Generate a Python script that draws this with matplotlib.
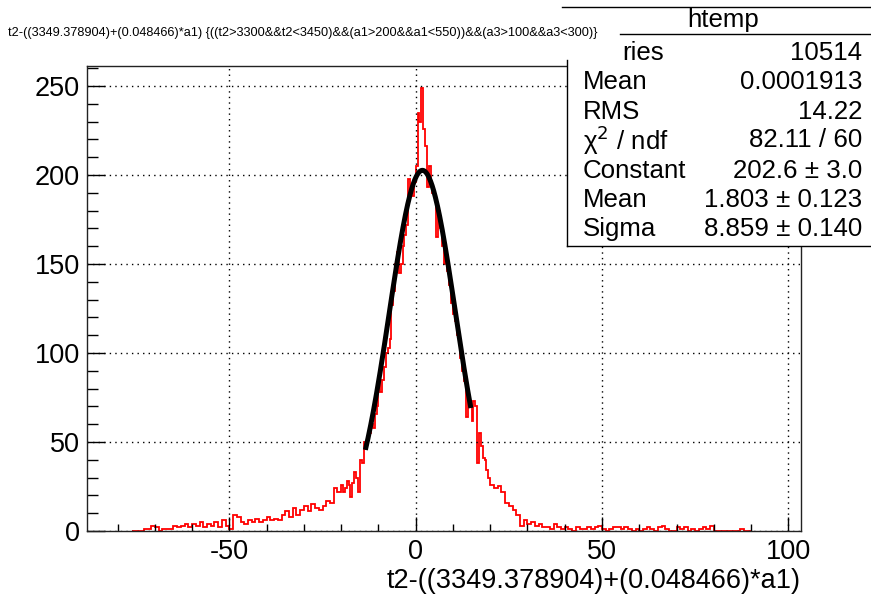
import numpy as np
import matplotlib
matplotlib.use("Agg")
import matplotlib.pyplot as plt
from matplotlib.lines import Line2D
from matplotlib.ticker import MultipleLocator

plt.rcParams['font.family'] = ['Liberation Sans', 'DejaVu Sans']
plt.rcParams['axes.unicode_minus'] = False

# histogram bin heights
# left tail, 1-unit bins from -76 to -20
left_counts = [0, 0, 0, 1, 1, 3, 2, 0, 1, 1, 1, 3, 2, 3, 4, 2, 4, 3, 5, 2,
               4, 3, 5, 2, 6, 3, 1, 9, 8, 5, 4, 6, 5, 7, 5, 6, 8, 6, 7, 6,
               9, 11, 8, 13, 9, 12, 14, 11, 15, 13, 12, 14, 17, 16, 24, 22]
# core, 0.5-unit bins from -20 to 20
core_counts = [26, 22, 24, 28, 26, 19, 27, 33, 30, 22,
               40, 38, 50, 46, 52, 55, 60, 58, 66, 70,
               84, 78, 85, 92, 100, 103, 108, 127, 135, 150,
               157, 145, 150, 160, 166, 172, 198, 190, 188, 196,
               205, 235, 230, 249, 226, 216, 193, 205, 196, 190,
               188, 165, 180, 170, 160, 150, 157, 146, 138, 128,
               122, 118, 110, 105, 97, 90, 84, 64, 75, 70,
               62, 73, 70, 38, 55, 48, 41, 40, 34, 30]
# right tail, 1-unit bins from 20 to 90
right_counts = [26, 24, 25, 22, 16, 14, 12, 9, 3, 6, 4, 5, 3, 4, 2, 2, 1, 4, 2, 1,
                2, 1, 0, 2, 1, 1, 2, 1, 2, 3, 1, 0, 1, 2, 2, 1, 2, 1, 0, 1,
                0, 1, 2, 1, 0, 2, 3, 1, 0, 0, 2, 1, 2, 0, 1, 0, 1, 2, 1, 3,
                0, 0, 0, 0, 0, 0, 0, 1, 0, 0]

# gaus fit results from the stats box
fit_const = 202.6
fit_mean = 1.803
fit_sigma = 8.859
fit_lo, fit_hi = -13.5, 14.8

stats_labels = ["ries", "Mean", "RMS", "\u03c7$^{2}$ / ndf", "Constant", "Mean", "Sigma"]
stats_values = ["10514", "0.0001913", "14.22", "82.11 / 60",
                "202.6 \u00b1 3.0", "1.803 \u00b1 0.123", "8.859 \u00b1 0.140"]

title = "t2-((3349.378904)+(0.048466)*a1) {((t2>3300&&t2<3450)&&(a1>200&&a1<550))&&(a3>100&&a3<300)}"
xlabel = "t2-((3349.378904)+(0.048466)*a1)"

counts = np.array(left_counts + core_counts + right_counts, dtype=float)
edges = np.concatenate([np.arange(-76, -20, 1.0),
                        np.arange(-20, 20, 0.5),
                        np.arange(20, 91, 1.0)])

W, H = 871, 594
fig = plt.figure(figsize=(W / 100, H / 100), dpi=100)
ax = fig.add_axes([87 / W, 1 - 531 / H, (801 - 87) / W, (531 - 66) / H])

ax.stairs(counts, edges, color="red", lw=1.3, baseline=0)
xf = np.linspace(fit_lo, fit_hi, 200)
ax.plot(xf, fit_const * np.exp(-0.5 * ((xf - fit_mean) / fit_sigma) ** 2),
        color="black", lw=3.6, solid_capstyle="butt")

ax.set_xlim(-88.2, 103.4)
ax.set_ylim(0, 261.2)
ax.xaxis.set_major_locator(MultipleLocator(50))
ax.xaxis.set_minor_locator(MultipleLocator(10))
ax.yaxis.set_major_locator(MultipleLocator(50))
ax.yaxis.set_minor_locator(MultipleLocator(10))
ax.grid(True, which="major", color="black", linestyle=(0, (1, 3)), lw=1)
ax.tick_params(axis="x", which="major", direction="in", length=10, width=1, pad=6, labelsize=19.5)
ax.tick_params(axis="x", which="minor", direction="in", length=5, width=1)
ax.tick_params(axis="y", which="major", direction="in", length=13, width=1, pad=5, labelsize=19.5)
ax.tick_params(axis="y", which="minor", direction="in", length=8, width=1)
for s in ax.spines.values():
    s.set_linewidth(1)
    s.set_color("#222222")

ax.set_xlabel(xlabel, fontsize=19.5, ha="right", x=1.0, labelpad=2)

fig.text(8 / W, 1 - 33 / H, title, fontsize=9.2, va="center", ha="left")

# stats box
def fx(px):
    return px / W

def fy(py):
    return 1 - py / H

fig.patches.append(plt.Rectangle((fx(567), fy(246)), fx(871) - fx(567), fy(7) - fy(246),
                                 transform=fig.transFigure, facecolor="white",
                                 edgecolor="none", zorder=2))
for (x0, y0, x1, y1) in [(562, 7, 871, 7), (620, 34, 871, 34),
                         (567, 60, 567, 246), (567, 246, 871, 246)]:
    fig.add_artist(Line2D([fx(x0), fx(x1)], [fy(y0), fy(y1)], transform=fig.transFigure,
                          color="black", lw=1, zorder=3))
fig.text(fx(723), fy(20), "htemp", fontsize=18.6, ha="center", va="center", zorder=4)
row_y = [53, 82, 112, 140, 171, 200, 229]
for lab, val, ry in zip(stats_labels, stats_values, row_y):
    lx = 622 if lab == "ries" else 583
    fig.text(fx(lx), fy(ry), lab, fontsize=18.6, ha="left", va="center", zorder=4)
    fig.text(fx(862), fy(ry), val, fontsize=18.6, ha="right", va="center", zorder=4)

fig.savefig("out.png", dpi=100)
